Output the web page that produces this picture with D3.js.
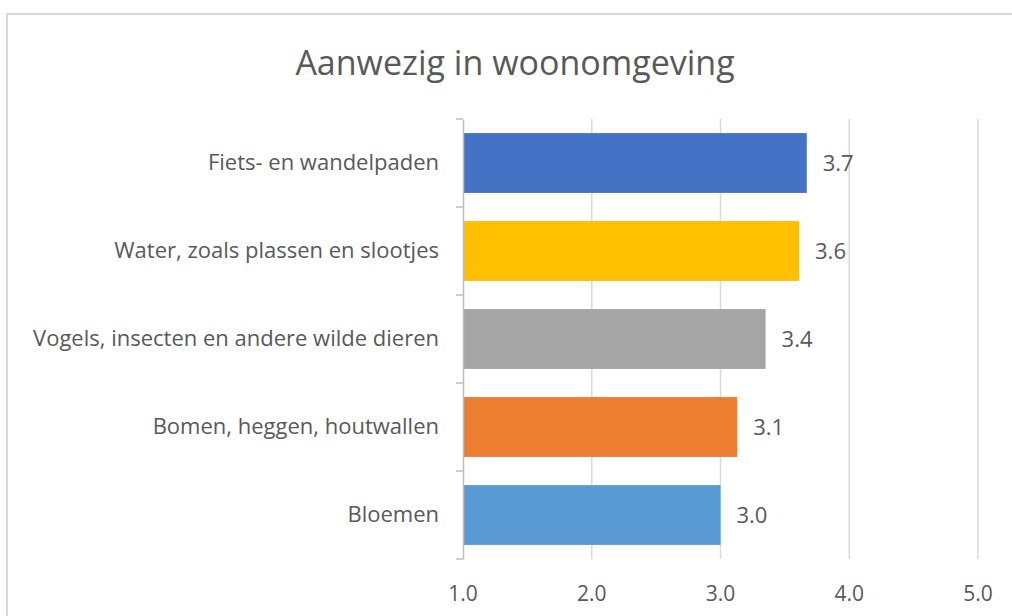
<!DOCTYPE html>
<meta charset="utf-8">
<script src="https://d3js.org/d3.v7.min.js"></script>
<style>
body { margin: 0; background: #fff; }
text { font-family: "Open Sans", sans-serif; fill: #595959; }
</style>
<body>
<div id="chart"></div>
<script>
  // data
  var categories = ["Fiets- en wandelpaden", "Water, zoals plassen en slootjes",
    "Vogels, insecten en andere wilde dieren", "Bomen, heggen, houtwallen", "Bloemen"];
  var values = [3.67, 3.61, 3.35, 3.13, 3.0];
  var labels = ["3.7", "3.6", "3.4", "3.1", "3.0"];
  var colors = ["#4472c4", "#ffc000", "#a5a5a5", "#ed7d31", "#5b9bd5"];
  var ticks = [1, 2, 3, 4, 5];

  var W = 1012, H = 616;
  var svg = d3.select("#chart").append("svg")
    .attr("width", W).attr("height", H);

  // chart frame
  svg.append("rect")
    .attr("x", 7).attr("y", 14)
    .attr("width", W + 20).attr("height", H + 20)
    .attr("fill", "none").attr("stroke", "#d9d9d9").attr("stroke-width", 2);

  svg.append("text")
    .attr("x", 515).attr("y", 75)
    .attr("text-anchor", "middle")
    .style("font-size", "34px")
    .text("Aanwezig in woonomgeving");

  var x = d3.scaleLinear().domain([1, 5]).range([463, 978]);
  var y = d3.scaleBand().domain(categories).range([119, 559])
    .paddingInner(0.32).paddingOuter(0.16);

  // gridlines
  svg.append("g").selectAll("line")
    .data(ticks.slice(1))
    .enter().append("line")
      .attr("x1", function(d) { return x(d); })
      .attr("x2", function(d) { return x(d); })
      .attr("y1", 119).attr("y2", 559)
      .attr("stroke", "#d9d9d9").attr("stroke-width", 1.5);

  // x tick labels
  svg.append("g").selectAll("text")
    .data(ticks)
    .enter().append("text")
      .attr("x", function(d) { return x(d); })
      .attr("y", 601)
      .attr("text-anchor", "middle")
      .style("font-size", "21px")
      .text(function(d) { return d.toFixed(1); });

  // bars
  svg.append("g").selectAll("rect")
    .data(values)
    .enter().append("rect")
      .attr("x", x(1))
      .attr("y", function(d, i) { return y(categories[i]); })
      .attr("width", function(d) { return x(d) - x(1); })
      .attr("height", y.bandwidth())
      .attr("fill", function(d, i) { return colors[i]; });

  // value labels
  svg.append("g").selectAll("text")
    .data(values)
    .enter().append("text")
      .attr("x", function(d) { return x(d) + 16; })
      .attr("y", function(d, i) { return y(categories[i]) + y.bandwidth() / 2; })
      .attr("dy", "0.35em")
      .style("font-size", "22px")
      .text(function(d, i) { return labels[i]; });

  // y axis with category labels
  var yAxis = svg.append("g")
    .attr("transform", "translate(" + x(1) + ",0)")
    .call(d3.axisLeft(y).tickSize(0).tickPadding(24));
  yAxis.select(".domain").attr("stroke", "#bfbfbf").attr("stroke-width", 1.5);
  yAxis.selectAll("text")
    .style("font-size", "22px")
    .style("font-family", "'Open Sans', sans-serif")
    .attr("fill", "#595959");

  // small separator ticks between categories
  var sep = d3.range(categories.length + 1).map(function(i) { return 119 + i * y.step(); });
  yAxis.selectAll(".sep")
    .data(sep)
    .enter().append("line")
      .attr("class", "sep")
      .attr("x1", -7).attr("x2", 0)
      .attr("y1", function(d) { return d; })
      .attr("y2", function(d) { return d; })
      .attr("stroke", "#bfbfbf").attr("stroke-width", 1.5);
</script>
</body>
